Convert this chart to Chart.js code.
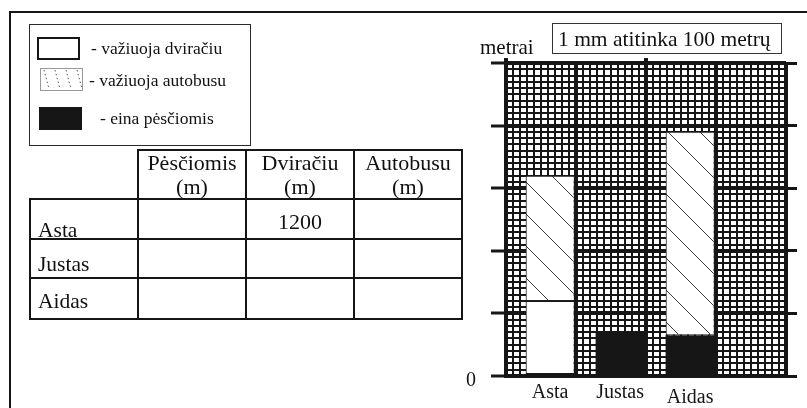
<!DOCTYPE html>
<html><head><meta charset="utf-8">
<script src="https://cdn.jsdelivr.net/npm/chart.js@4.4.0/dist/chart.umd.min.js"></script>
<style>
html,body{margin:0;padding:0;background:#fff;}
body{width:807px;height:408px;position:relative;overflow:hidden;font-family:"Liberation Serif","Times New Roman",serif;color:#111;}
.a{position:absolute;box-sizing:border-box;}
.t{position:absolute;white-space:nowrap;}
#chartWrap{position:absolute;left:440px;top:0;width:367px;height:408px;}
</style></head><body>
<div id="chartWrap"><canvas id="c"></canvas></div>
<script>
// ---- data ----
const categories = ['Asta', 'Justas', 'Aidas'];
const walking = [0, 700, 650];     // eina pėsčiomis (m)
const bicycle = [1200, 0, 0];      // važiuoja dviračiu (m)
const bus     = [2000, 0, 3250];   // važiuoja autobusu (m)
const yTickLabels = { 0: '0' };
const tableHeaders = [['Pėsčiomis', '(m)'], ['Dviračiu', '(m)'], ['Autobusu', '(m)']];
const tableValues = [[null, 1200, null], [null, null, null], [null, null, null]];
const legendLabels = ['- važiuoja dviračiu', '- važiuoja autobusu', '- eina pėsčiomis'];
const yAxisTitle = 'metrai';
const scaleNote = '1 mm atitinka 100 metrų';

// ---- page furniture (HTML) ----
const INK = '#161616';
const body = document.body;
function box(l, t, w, h, css) {
  const d = document.createElement('div'); d.className = 'a';
  d.style.cssText += `left:${l}px;top:${t}px;width:${w}px;height:${h}px;` + (css || '');
  body.appendChild(d); return d;
}
function text(str, x, baseline, size, align) {
  const d = document.createElement('div'); d.className = 't';
  d.textContent = str;
  d.style.fontSize = size + 'px'; d.style.lineHeight = size + 'px';
  d.style.top = (baseline - 0.8375 * size) + 'px';
  d.style.left = x + 'px';
  if (align === 'center') d.style.transform = 'translateX(-50%)';
  body.appendChild(d); return d;
}
// outer frame
box(9, 11, 800, 400, `border-top:2px solid ${INK};border-left:2px solid ${INK};`);
// legend
box(29, 24, 222, 122, 'border:1px solid #2a2a2a;');
box(37, 37, 43, 23, `border:2px solid ${INK};background:#fff;`);
const hb = box(40, 68, 43, 23, 'border:1px solid #999;background:#fff;');
hb.innerHTML = '<svg width="41" height="21" style="display:block">' +
  [3, 14, 25, 36].map(x => `<line x1="${x}" y1="1" x2="${x + 5}" y2="20" stroke="#555" stroke-width="1" stroke-dasharray="1.5 2.5"/>`).join('') + '</svg>';
box(39, 107, 43, 23, `background:${INK};`);
text(legendLabels[0], 91, 55, 17.5);
text(legendLabels[1], 89, 87, 17.5);
text(legendLabels[2], 100, 125, 17.5);
// table
const colX = [30, 138, 246, 354, 462];
const rowY = [150, 199, 239, 278, 319];
const LW = 2;
function hline(x1, x2, y) { box(x1 - 1, y - 1, x2 - x1 + 2, LW, `background:${INK};`); }
function vline(x, y1, y2) { box(x - 1, y1 - 1, LW, y2 - y1 + 2, `background:${INK};`); }
hline(colX[1], colX[4], rowY[0]);
for (let r = 1; r < rowY.length; r++) hline(colX[0], colX[4], rowY[r]);
vline(colX[0], rowY[1], rowY[4]);
for (let c = 1; c < colX.length; c++) vline(colX[c], rowY[0], rowY[4]);
tableHeaders.forEach((h, i) => {
  const cx = (colX[i + 1] + colX[i + 2]) / 2;
  text(h[0], cx, 170, 22, 'center');
  text(h[1], cx, 194, 22, 'center');
});
const nameBaselines = [238, 272, 309];
categories.forEach((n, r) => {
  text(n, 38, nameBaselines[r], 21.5);
  tableValues[r].forEach((v, c) => {
    if (v !== null) text(String(v), (colX[c + 1] + colX[c + 2]) / 2, (rowY[r + 1] + rowY[r + 2]) / 2 + 10, 22, 'center');
  });
});
// chart captions
text(yAxisTitle, 480, 55, 21);
box(552, 23, 230, 31, 'border:1px solid #333;');
text(scaleNote, 558, 47, 21.5);

// ---- chart ----
function hatchPattern() {
  const s = 32, c = document.createElement('canvas'); c.width = s; c.height = s;
  const g = c.getContext('2d');
  g.fillStyle = '#fff'; g.fillRect(0, 0, s, s);
  g.strokeStyle = '#3c3c3c'; g.lineWidth = 1;
  g.beginPath(); g.moveTo(-2, -2); g.lineTo(s + 2, s + 2); g.stroke();
  return g.createPattern(c, 'repeat');
}
const BAR_FIRST_MM = 6.3, BAR_STEP_MM = 10;
const barX = i => BAR_FIRST_MM + i * BAR_STEP_MM;
const toPoints = arr => arr.map((v, i) => ({ x: barX(i), y: v }));
const tv = c => (c && c.tick) ? c.tick.value : 0;
const isMajorMm = c => tv(c) % 10 === 0;
const isMajorM = c => tv(c) % 1000 === 0;
const CLEAR = 'rgba(0,0,0,0)';
const borderIfValue = ctx => (ctx.raw && ctx.raw.y) ? 1 : 0;

new Chart(document.getElementById('c'), {
  type: 'bar',
  data: {
    datasets: [
      { label: legendLabels[2], data: toPoints(walking), backgroundColor: INK, borderWidth: 0 },
      { label: legendLabels[0], data: toPoints(bicycle), backgroundColor: '#fff', borderColor: INK, borderWidth: borderIfValue, borderSkipped: false },
      { label: legendLabels[1], data: toPoints(bus), backgroundColor: hatchPattern(), borderColor: '#222', borderWidth: borderIfValue, borderSkipped: false }
    ]
  },
  options: {
    responsive: true, maintainAspectRatio: false, animation: false, devicePixelRatio: 1,
    layout: { padding: 0, autoPadding: false },
    datasets: { bar: { categoryPercentage: 1, barPercentage: 0.7, xAxisID: 'x', yAxisID: 'y' } },
    plugins: { legend: { display: false }, tooltip: { enabled: false } },
    scales: {
      x: {
        type: 'linear', position: 'bottom', min: 0, max: 40, stacked: true, offset: false,
        afterBuildTicks: s => { s.ticks = categories.map((_, i) => ({ value: barX(i) })); },
        afterFit: s => { s.height = 32; },
        grid: { display: false, drawTicks: false, offset: false },
        border: { display: true, color: INK, width: 3 },
        ticks: {
          autoSkip: false, maxRotation: 0, padding: 5, color: INK,
          font: c => ({ family: 'Liberation Serif', size: 20, lineHeight: (c && c.index === 2) ? 1.7 : 1.2 }),
          callback: (v, i) => categories[i]
        }
      },
      xg: {
        type: 'linear', position: 'top', min: 0, max: 40, offset: false,
        afterFit: s => { s.height = 63; },
        ticks: { display: false, stepSize: 1, autoSkip: false },
        grid: {
          offset: false, color: INK, lineWidth: c => isMajorMm(c) ? 4 : 2,
          drawTicks: true, tickLength: 5, tickWidth: 4,
          tickColor: c => (c && c.tick && (c.tick.value === 0 || c.tick.value === 20)) ? INK : CLEAR
        },
        border: { display: false }
      },
      y: {
        type: 'linear', position: 'left', min: 0, max: 5000, stacked: true,
        afterFit: s => { s.width = 66; },
        ticks: {
          stepSize: 100, autoSkip: false, padding: 15, labelOffset: 5, color: INK,
          font: { family: 'Liberation Serif', size: 20 },
          callback: v => (v in yTickLabels) ? yTickLabels[v] : ''
        },
        grid: {
          color: INK, lineWidth: c => isMajorM(c) ? 4 : 2,
          tickLength: 15, tickWidth: 3,
          tickColor: c => isMajorM(c) ? INK : CLEAR
        },
        border: { display: true, color: INK, width: 4 }
      },
      y2: {
        type: 'linear', position: 'right', min: 0, max: 5000,
        afterFit: s => { s.width = 21; },
        ticks: { display: false, stepSize: 100, autoSkip: false },
        grid: {
          drawOnChartArea: false, tickLength: 11, tickWidth: 3,
          tickColor: c => isMajorM(c) ? INK : CLEAR
        },
        border: { display: false }
      }
    }
  }
});
</script>
</body></html>
